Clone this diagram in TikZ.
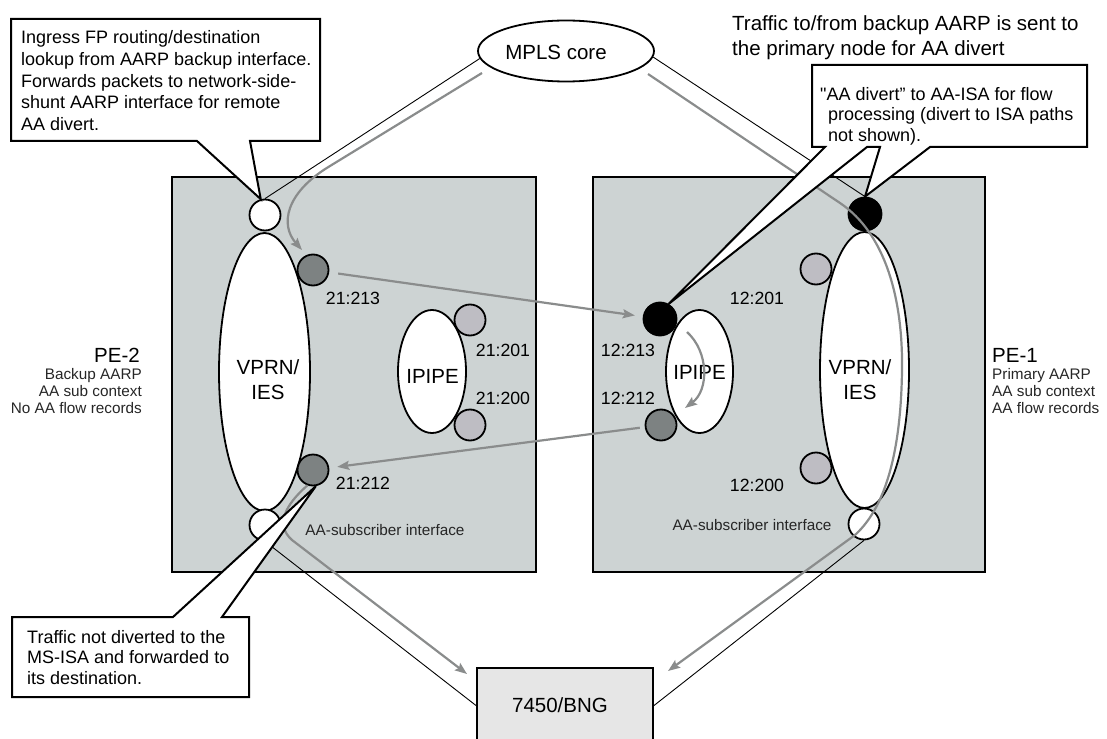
\documentclass[tikz,border=0pt]{standalone}
\usepackage{fontspec}
\setmainfont{Liberation Sans}
\newfontfamily\plainfont{Liberation Sans}
\usetikzlibrary{shapes.geometric,arrows.meta}
\definecolor{boxfill}{RGB}{205,211,211}
\definecolor{darkport}{RGB}{125,130,130}
\definecolor{lightport}{RGB}{190,189,195}
\definecolor{bngfill}{RGB}{230,230,230}
\definecolor{flow}{RGB}{138,140,140}
\begin{document}
\begin{tikzpicture}[x=1pt,y=-1pt,
  pebox/.style={draw=black, line width=2pt, fill=boxfill, rectangle, inner sep=0pt},
  oval/.style={ellipse, draw=black, line width=1.8pt, fill=white, inner sep=0pt},
  port/.style={circle, draw=black, line width=1.8pt, inner sep=0pt, minimum size=31pt},
  whitep/.style={port, fill=white},
  darkp/.style={port, fill=darkport},
  lightp/.style={port, fill=lightport},
  blackp/.style={port, fill=black, minimum size=33pt},
  bigtxt/.style={font=\fontsize{20.5}{25}\selectfont, inner sep=0pt},
  porttxt/.style={font=\fontsize{17.7}{21}\selectfont, inner sep=0pt},
  calltxt/.style={font=\fontsize{18}{21.7}\selectfont, inner sep=0pt, align=left, anchor=north west},
  smalltxt/.style={font=\fontsize{15.3}{17}\selectfont, inner sep=0pt, text=black!85},
  link/.style={draw=black, line width=0.9pt},
  flowarrow/.style={draw=flow, line width=2.2pt, -{Stealth[length=12pt,width=9pt,inset=2pt]}},
  calloutbox/.style={draw=black, line width=2pt, fill=white, line join=miter, miter limit=4}
]
\useasboundingbox (0,0) rectangle (1107,738);

% PE boxes
\node[pebox, minimum width=364pt, minimum height=395pt] (pe2) at (354,374.5) {};
\node[pebox, minimum width=392pt, minimum height=395pt] (pe1) at (789,374.5) {};

% MPLS core
\node[oval, minimum width=176pt, minimum height=61pt] (mpls) at (566,51) {};
\node[bigtxt, anchor=base] (mplst) at (556,60) {MPLS core};

% service ellipses
\node[oval, minimum width=91pt, minimum height=278pt] (vprn2) at (264.5,372) {};
\node[oval, minimum width=68pt, minimum height=123pt] (ipipe2) at (432,371.5) {};
\node[oval, minimum width=67pt, minimum height=123pt] (ipipe1) at (699.5,371.5) {};
\node[oval, minimum width=89pt, minimum height=276pt] (vprn1) at (864.5,370) {};
\node[bigtxt, align=center] (vprn2t) at (268,380) {VPRN/\\IES};
\node[bigtxt, align=center] (vprn1t) at (860,380) {VPRN/\\IES};
\node[bigtxt] (ipipe2t) at (432.5,376.5) {IPIPE};
\node[bigtxt] (ipipe1t) at (699.5,372.5) {IPIPE};

% ports PE-2
\node[whitep] (wtl) at (265,215) {};
\node[darkp] (d213) at (313,270) {};
\node[lightp] (l201) at (470,320) {};
\node[lightp] (l200) at (470,425) {};
\node[darkp] (d212) at (313,470) {};
\node[whitep] (wbl) at (265,525) {};
% ports PE-1
\node[blackp] (btr) at (865,214) {};
\node[blackp] (b213) at (660,319) {};
\node[darkp] (d1212) at (661,425) {};
\node[lightp] (l1201) at (816,269) {};
\node[lightp] (l1200) at (816,468) {};
\node[whitep] (wbr) at (864,524) {};

% port labels
\node[porttxt] (t21213) at (353,298) {21:213};
\node[porttxt] (t21201) at (503,350) {21:201};
\node[porttxt] (t21200) at (503,398) {21:200};
\node[porttxt] (t21212) at (363,483) {21:212};
\node[porttxt] (t12201) at (757,298) {12:201};
\node[porttxt] (t12213) at (628,350) {12:213};
\node[porttxt] (t12212) at (628,398) {12:212};
\node[porttxt] (t12200) at (757,485) {12:200};

\node[smalltxt, anchor=base] (aasub2) at (385,535) {AA-subscriber interface};
\node[smalltxt, anchor=base] (aasub1) at (752,530) {AA-subscriber interface};

% BNG
\node[draw=black, line width=2pt, fill=bngfill, rectangle, inner sep=0pt, minimum width=176pt, minimum height=75pt] (bng) at (565,705.5) {};
\node[bigtxt] (bngt) at (560,705.5) {7450/BNG};

% PE labels
\node[bigtxt, anchor=base east] (pe2t) at (140,362.5) {PE-2};
\node[smalltxt, anchor=north east, align=right] (pe2d) at (142,368) {Backup AARP\\AA sub context\\No AA flow records};
\node[bigtxt, anchor=base west] (pe1t) at (992,362.5) {PE-1};
\node[smalltxt, anchor=north west, align=left] (pe1d) at (992,368) {Primary AARP\\AA sub context\\AA flow records};

% top-right note
\node[font=\fontsize{20.5}{24.3}\selectfont, inner sep=0pt, align=left, anchor=north west] (note) at (732,15.7) {Traffic to/from backup AARP is sent to\\the primary node for AA divert};

% black links
\draw[link] (mpls.185) -- (wtl.north);
\draw[link] (mpls.-4) -- (btr.north);
\draw[link] (wbl.south) -- (bng.west);
\draw[link] (wbr.south) -- (bng.east);

% grey traffic paths
\coordinate (gl0) at (482,73);
\coordinate (gr0) at (648,74);
\draw[flowarrow] (gl0) -- (330,166) .. controls (285,193) and (280,225) .. ([shift={(-11,-20)}]d213.center);
\draw[flowarrow] (gr0) -- (840,203) .. controls (886,234) and (903,300) .. (902,370) .. controls (901,445) and (888,505) .. (855,535) -- ([shift={(14,4)}]bng.north east);
\draw[flowarrow, shorten <=9pt, shorten >=8pt] (d213) -- (b213);
\draw[flowarrow, shorten <=5pt, shorten >=8pt] (d1212) -- (d212);
\draw[flowarrow] ([shift={(-12.5,-39.5)}]ipipe1.center) .. controls (709,352) and (709,390) .. ([shift={(-14.5,36.5)}]ipipe1.center);
\draw[flowarrow] (d212.250) .. controls (285,505) and (275,525) .. (292,540) -- ([shift={(-9,7)}]bng.north west);

% callouts
\draw[calloutbox] (11,19) -- (320,19) -- (320,141) -- (250,141) -- (wtl.105) -- (197,141) -- (11,141) -- cycle;
\draw[calloutbox] (812,65) -- (1087,65) -- (1087,147) -- (930,147) -- (btr.north) -- (880,147) -- (867,147) -- (b213.60) -- (825,147) -- (812,147) -- cycle;
\draw[calloutbox] (12,617) -- (173,617) -- (d212.-80) -- (222,617) -- (249,617) -- (249,697) -- (12,697) -- cycle;

\node[calltxt] (c1) at (21,30.4) {Ingress FP routing/destination\\lookup from AARP backup interface.\\Forwards packets to network-side-\\shunt AARP interface for remote\\AA divert.};
\node[calltxt, font=\fontsize{18}{20.5}\selectfont] (c2) at (820,87) {{\plainfont "}AA divert” to AA-ISA for flow\\\hspace*{8pt}processing (divert to ISA paths\\\hspace*{8pt}not shown).};
\node[calltxt, font=\fontsize{18}{20.5}\selectfont] (c3) at (27,630) {Traffic not diverted to the\\MS-ISA and forwarded to\\its destination.};
\end{tikzpicture}
\end{document}
